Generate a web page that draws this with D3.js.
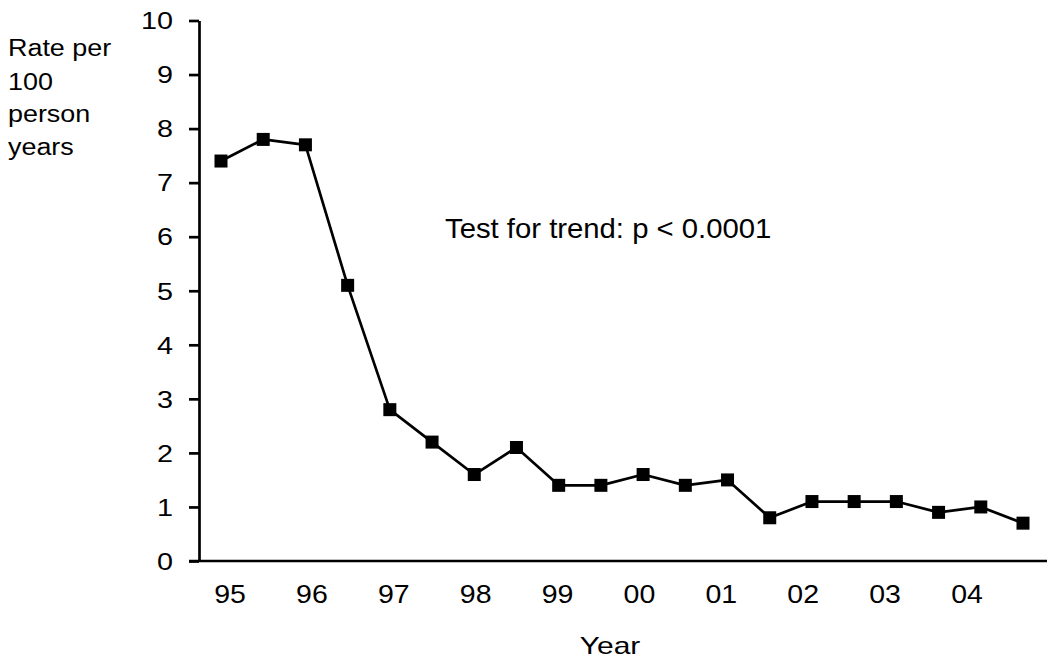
<!DOCTYPE html>
<html>

<head>
    <meta charset="utf-8">
    <style>
        body {
            margin: 0;
            background: #fff;
        }

        svg {
            display: block;
            font-family: Arial, 'Liberation Sans', Helvetica, sans-serif;
        }

        .y.axis .domain,
        .y.axis .tick line {
            stroke: #000;
            stroke-width: 2.7px;
        }

        .y.axis .tick text {
            font-size: 23px;
            fill: #000;
        }
    </style>
</head>

<body>
    <svg width="1050" height="669"></svg>
</body>

<script src="https://d3js.org/d3.v7.min.js"></script>

<script>
    // half-year periods, 1995 to 2004
    let periods = ["95a", "95b", "96a", "96b", "97a", "97b", "98a", "98b", "99a", "99b",
        "00a", "00b", "01a", "01b", "02a", "02b", "03a", "03b", "04a", "04b"]
    let rates = [7.4, 7.8, 7.7, 5.1, 2.8, 2.2, 1.6, 2.1, 1.4, 1.4,
        1.6, 1.4, 1.5, 0.8, 1.1, 1.1, 1.1, 0.9, 1.0, 0.7]
    let yearLabels = ["95", "96", "97", "98", "99", "00", "01", "02", "03", "04"]
    let yTicks = [0, 1, 2, 3, 4, 5, 6, 7, 8, 9, 10]
    let yTitle = ["Rate per", "100", "person", "years"]

    let width = 1050
    let height = 669
    let margin = { top: 20.5, right: 3, bottom: 108, left: 199 }

    let svg = d3.select("svg")

    let x = d3.scalePoint()
        .domain(periods)
        .range([221, 1023])

    let xYear = d3.scalePoint()
        .domain(yearLabels)
        .range([230, 967])

    let y = d3.scaleLinear()
        .domain([0, 10])
        .range([height - margin.bottom, margin.top])

    // stretched text helper (the original type is set a bit wide)
    function label(px, py, str, size, sx, anchor) {
        return svg.append("text")
            .attr("transform", `translate(${px},${py}) scale(${sx},1)`)
            .attr("text-anchor", anchor || "start")
            .style("font-size", size + "px")
            .style("fill", "#000")
            .text(str)
    }

    let yAxis = svg.append("g")
        .attr("class", "y axis")
        .attr("transform", `translate(${margin.left},0)`)
        .call(d3.axisLeft(y)
            .tickValues(yTicks)
            .tickSize(10)
            .tickSizeOuter(0)
            .tickFormat(d3.format("d")))

    let ySx = 1.25
    yAxis.selectAll(".tick text")
        .attr("transform", `scale(${ySx},1)`)
        .attr("x", -26 / ySx)
        .attr("dy", "0.36em")

    // x axis line (no ticks), starts at the left end of the y ticks
    svg.append("line")
        .attr("x1", margin.left - 10)
        .attr("x2", width - margin.right)
        .attr("y1", y(0))
        .attr("y2", y(0))
        .attr("stroke", "#000")
        .attr("stroke-width", 2.7)

    yearLabels.forEach(d => label(xYear(d), 603, d, 25, 1.14, "middle"))

    label(610, 654, "Year", 24, 1.25, "middle")

    yTitle.forEach((d, i) => label(8, [56, 90, 122, 155][i], d, 23, 1.17))

    label(445, 238, "Test for trend: p < 0.0001", 27, 1.085)

    let data = periods.map((p, i) => ({ period: p, rate: rates[i] }))

    let line = d3.line()
        .x(d => x(d.period))
        .y(d => y(d.rate))

    svg.append("path")
        .datum(data)
        .attr("fill", "none")
        .attr("stroke", "#000")
        .attr("stroke-width", 2.7)
        .attr("stroke-linejoin", "round")
        .attr("d", line)

    let size = 13
    svg.append("g")
        .selectAll("rect")
        .data(data)
        .join("rect")
        .attr("x", d => x(d.period) - size / 2)
        .attr("y", d => y(d.rate) - size / 2)
        .attr("width", size)
        .attr("height", size)
        .attr("fill", "#000")
</script>

</html>
